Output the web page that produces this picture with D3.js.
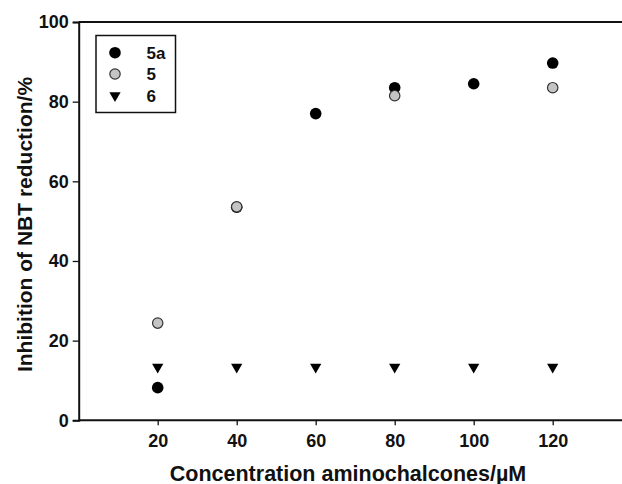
<!DOCTYPE html>
<html>
<head>
<meta charset="utf-8">
<script src="https://cdn.jsdelivr.net/npm/d3@7"></script>
<style>
  body { margin: 0; background: #fff; }
  svg { display: block; font-family: "Liberation Sans", Arial, sans-serif; font-weight: bold; }
</style>
</head>
<body>
<div id="graph"></div>
<script>
// concentrations (µM)
var conc = [20, 40, 60, 80, 100, 120];
// % inhibition of NBT reduction, null = not shown
var vals5a = [8.2, 53.5, 77.0, 83.5, 84.5, 89.7];
var vals5 = [24.4, 53.6, null, 81.5, null, 83.5];
var vals6 = [13.4, 13.4, 13.4, 13.4, 13.4, 13.4];
var seriesNames = ["5a", "5", "6"];
var xTicks = [20, 40, 60, 80, 100, 120];
var yTicks = [0, 20, 40, 60, 80, 100];

var svgWidth = 622, svgHeight = 484;
var margin = { top: 22, left: 78.7, bottom: 64 };

var svg = d3.select('#graph')
  .append('svg')
    .attr("width", svgWidth)
    .attr("height", svgHeight);

var x = d3.scaleLinear()
    .domain([0, 140])
    .range([margin.left, margin.left + 140 * 3.95]);

var y = d3.scaleLinear()
    .domain([0, 100])
    .range([svgHeight - margin.bottom + 0.3, margin.top]);

// top frame line
svg.append("line")
    .attr("x1", x(0)).attr("x2", x(140))
    .attr("y1", y(100)).attr("y2", y(100))
    .attr("stroke", "#111").attr("stroke-width", 2);

var xAxis = svg.append("g")
    .attr("transform", "translate(0," + y(0) + ")")
    .call(d3.axisBottom(x).tickValues(xTicks).tickSize(5).tickPadding(9));

var yAxis = svg.append("g")
    .attr("transform", "translate(" + x(0) + ",0)")
    .call(d3.axisLeft(y).tickValues(yTicks).tickSize(6).tickPadding(4));

[xAxis, yAxis].forEach(function(ax) {
  ax.select(".domain").attr("stroke", "#111").attr("stroke-width", 2);
  ax.selectAll(".tick line").attr("stroke", "#111").attr("stroke-width", 1.3);
  ax.selectAll(".tick text")
    .attr("fill", "#111")
    .style("font-size", "18px")
    .style("font-weight", "bold")
    .style("font-family", "'Liberation Sans', Arial, sans-serif");
});
xAxis.select(".domain").attr("d", "M" + x(0) + ",0H" + x(140));

svg.append("text")
    .attr("x", 348)
    .attr("y", 480.5)
    .attr("text-anchor", "middle")
    .attr("fill", "#111")
    .style("font-size", "21.5px")
    .text("Concentration aminochalcones/µM");

svg.append("text")
    .attr("transform", "translate(31.5," + 224.5 + ") rotate(-90)")
    .attr("text-anchor", "middle")
    .attr("fill", "#111")
    .style("font-size", "21px")
    .text("Inhibition of NBT reduction/%");

var tri = d3.symbol().type(d3.symbolTriangle).size(55);

function pts(vals) {
  return conc.map(function(c, i) { return { c: c, v: vals[i] }; })
    .filter(function(d) { return d.v != null; });
}

// 5a
svg.append("g").selectAll("circle")
  .data(pts(vals5a)).enter().append("circle")
    .attr("cx", function(d) { return x(d.c); })
    .attr("cy", function(d) { return y(d.v); })
    .attr("r", 5.8)
    .attr("fill", "#000");

// 5
svg.append("g").selectAll("circle")
  .data(pts(vals5)).enter().append("circle")
    .attr("cx", function(d) { return x(d.c); })
    .attr("cy", function(d) { return y(d.v); })
    .attr("r", 5.2)
    .attr("fill", "#c4c4c4")
    .attr("stroke", "#333")
    .attr("stroke-width", 1.2);

// 6
svg.append("g").selectAll("path")
  .data(pts(vals6)).enter().append("path")
    .attr("d", tri)
    .attr("transform", function(d) { return "translate(" + x(d.c) + "," + y(d.v) + ") rotate(180)"; })
    .attr("fill", "#000");

// legend
var legend = svg.append("g");
legend.append("rect")
    .attr("x", 96).attr("y", 35.5)
    .attr("width", 79.5).attr("height", 77)
    .attr("fill", "#fff").attr("stroke", "#111").attr("stroke-width", 1.5);

var rowsY = [52.7, 74, 95.5];
legend.append("circle").attr("cx", 115).attr("cy", rowsY[0]).attr("r", 5.8).attr("fill", "#000");
legend.append("circle").attr("cx", 115).attr("cy", rowsY[1]).attr("r", 5.2)
    .attr("fill", "#c4c4c4").attr("stroke", "#333").attr("stroke-width", 1.2);
legend.append("path").attr("d", tri)
    .attr("transform", "translate(115," + rowsY[2] + ") rotate(180)").attr("fill", "#000");

legend.selectAll("text")
  .data(seriesNames).enter().append("text")
    .attr("x", 146.5)
    .attr("y", function(d, i) { return rowsY[i] + 6.2; })
    .attr("fill", "#111")
    .style("font-size", "17px")
    .text(function(d) { return d; });
</script>
</body>
</html>
